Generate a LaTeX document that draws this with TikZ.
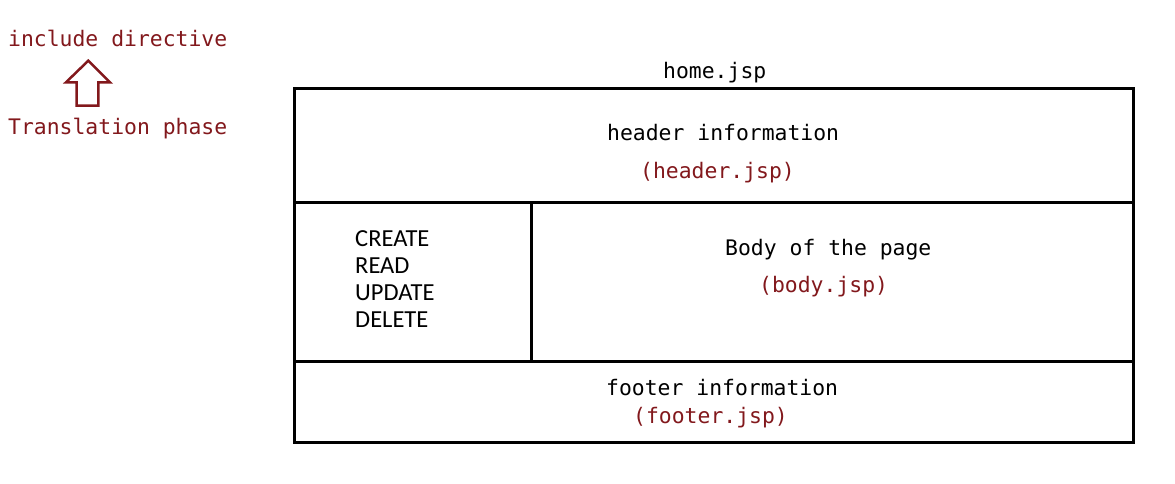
\documentclass[tikz,border=0pt]{standalone}
\usepackage{fontspec}
\setmonofont{DejaVu Sans Mono}
\newfontfamily\crudfont{Carlito}
\definecolor{jspred}{RGB}{130,24,28}
\begin{document}
\begin{tikzpicture}[x=1pt,y=-1pt,
  mono/.style={font=\ttfamily\fontsize{21.4}{24}\selectfont, inner sep=0pt, anchor=base west},
  redtxt/.style={mono, text=jspred},
  frame/.style={line width=3pt, black},
  crud/.style={font=\crudfont\fontsize{24.5}{27}\selectfont, inner sep=0pt, anchor=base west}]
\useasboundingbox (0,0) rectangle (1175,484);
% left legend
\node[redtxt] (inc) at (8,46.7) {include directive};
\node[redtxt] (tra) at (8,135) {Translation phase};
\draw[jspred, line width=2.5pt, line join=miter]
  (88.3,60.7) -- (110,82.3) -- (98.3,82.3) -- (98.3,105.7) -- (76.7,105.7) -- (76.7,82.3) -- (66,82.3) -- cycle;
% frame
\coordinate (tl) at (294,89);
\coordinate (br) at (1133,442);
\draw[frame] (tl) rectangle (br);
\draw[frame] (294,202) -- (1133,202);
\draw[frame] (294,361) -- (1133,361);
\draw[frame] (531,202) -- (531,361);
% texts
\node[mono] (home) at (663,79) {home.jsp};
\node[mono] (hinfo) at (607,141) {header information};
\node[redtxt] (hjsp) at (640,178) {(header.jsp)};
\node[mono] (body) at (725,255) {Body of the page};
\node[redtxt] (bjsp) at (759,292) {(body.jsp)};
\node[mono] (finfo) at (606,395) {footer information};
\node[redtxt] (fjsp) at (633,423) {(footer.jsp)};
\node[crud] (c1) at (355,246.7) {CREATE};
\node[crud] (c2) at (355,273.7) {READ};
\node[crud] (c3) at (355,300.7) {UPDATE};
\node[crud] (c4) at (355,327.7) {DELETE};
\end{tikzpicture}
\end{document}
